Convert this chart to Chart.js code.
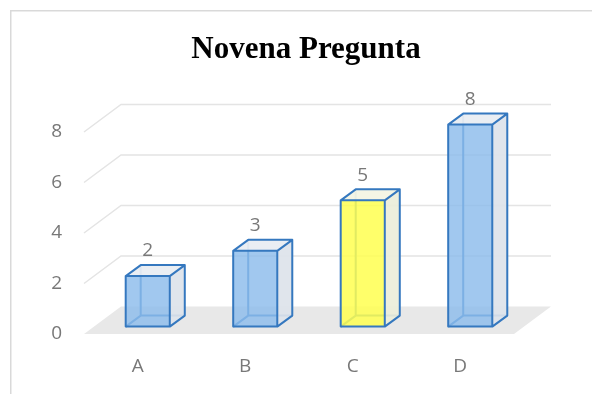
<!DOCTYPE html>
<html>
<head>
<meta charset="utf-8">
<script src="https://cdn.jsdelivr.net/npm/chart.js@4/dist/chart.umd.min.js"></script>
<style>
  html, body { margin: 0; padding: 0; background: #ffffff; }
  #wrap { width: 592px; height: 394px; }
</style>
</head>
<body>
<div id="wrap"><canvas id="chart" width="592" height="394"></canvas></div>
<script>
// Answers per option
const categories = ['A', 'B', 'C', 'D'];
const answers = [2, 3, 5, 8];
const axisTicks = [0, 2, 4, 6, 8];
const chartTitle = 'Novena Pregunta';

// Styling
const HIGHLIGHT = 'C';
const EDGE = '#3578bf';
const GRID = '#e4e4e4';
const FLOOR = '#e8e8e8';
const TEXT = '#787878';
const LABEL_FONT = '19px "Open Sans", sans-serif';
const FACES = {
  normal: { front: 'rgba(140,188,236,0.82)', side: 'rgba(221,227,234,0.92)', top: 'rgba(233,237,242,0.95)' },
  highlight: { front: 'rgba(255,255,80,0.85)', side: 'rgba(236,238,218,0.92)', top: 'rgba(243,244,228,0.95)' }
};
// Depth of the 3D box (vector from front plane to back wall)
const DEPTH = { dx: 37, dy: -27.5 };
const BAR_FRONT = 0.27;   // bar front face position along the depth
const BAR_DEPTH = { dx: 15, dy: -11 };

const threeD = {
  id: 'threeD',
  beforeDraw(chart) {
    const ctx = chart.ctx;
    ctx.save();
    ctx.strokeStyle = '#d9d9d9';
    ctx.lineWidth = 1.5;
    ctx.beginPath();
    ctx.moveTo(10.75, 394);
    ctx.lineTo(10.75, 10.75);
    ctx.lineTo(592, 10.75);
    ctx.stroke();
    ctx.restore();
  },
  beforeDatasetsDraw(chart) {
    const ctx = chart.ctx;
    const a = chart.chartArea;
    const y = chart.scales.y;
    const y0 = y.getPixelForValue(0);
    ctx.save();
    // floor
    ctx.fillStyle = FLOOR;
    ctx.beginPath();
    ctx.moveTo(a.left, y0);
    ctx.lineTo(a.right, y0);
    ctx.lineTo(a.right + DEPTH.dx, y0 + DEPTH.dy);
    ctx.lineTo(a.left + DEPTH.dx, y0 + DEPTH.dy);
    ctx.closePath();
    ctx.fill();
    // side and back wall gridlines
    ctx.strokeStyle = GRID;
    ctx.lineWidth = 1.5;
    y.ticks.forEach(t => {
      if (t.value === 0) return;
      const py = y.getPixelForValue(t.value);
      ctx.beginPath();
      ctx.moveTo(a.left, py);
      ctx.lineTo(a.left + DEPTH.dx, py + DEPTH.dy);
      ctx.lineTo(a.right + DEPTH.dx, py + DEPTH.dy);
      ctx.stroke();
    });
    ctx.restore();
  },
  afterDatasetsDraw(chart) {
    const ctx = chart.ctx;
    const meta = chart.getDatasetMeta(0);
    const ox = DEPTH.dx * BAR_FRONT, oy = DEPTH.dy * BAR_FRONT;
    ctx.save();
    ctx.lineJoin = 'round';
    meta.data.forEach((bar, i) => {
      const faces = categories[i] === HIGHLIGHT ? FACES.highlight : FACES.normal;
      const x0 = bar.x - bar.width / 2 + ox, x1 = bar.x + bar.width / 2 + ox;
      const yt = bar.y + oy, yb = bar.base + oy;
      const bx = BAR_DEPTH.dx, by = BAR_DEPTH.dy;
      ctx.lineWidth = 2;
      ctx.strokeStyle = EDGE;
      // hidden edges, seen through the faces
      ctx.beginPath();
      ctx.moveTo(x0 + bx, yt + by);
      ctx.lineTo(x0 + bx, yb + by);
      ctx.lineTo(x1 + bx, yb + by);
      ctx.moveTo(x0, yb);
      ctx.lineTo(x0 + bx, yb + by);
      ctx.stroke();
      // side face
      ctx.fillStyle = faces.side;
      ctx.beginPath();
      ctx.moveTo(x1, yt); ctx.lineTo(x1 + bx, yt + by);
      ctx.lineTo(x1 + bx, yb + by); ctx.lineTo(x1, yb);
      ctx.closePath(); ctx.fill();
      // top face
      ctx.fillStyle = faces.top;
      ctx.beginPath();
      ctx.moveTo(x0, yt); ctx.lineTo(x0 + bx, yt + by);
      ctx.lineTo(x1 + bx, yt + by); ctx.lineTo(x1, yt);
      ctx.closePath(); ctx.fill();
      // front face
      ctx.fillStyle = faces.front;
      ctx.fillRect(x0, yt, x1 - x0, yb - yt);
      // visible edges
      ctx.beginPath();
      ctx.rect(x0, yt, x1 - x0, yb - yt);
      ctx.moveTo(x0, yt); ctx.lineTo(x0 + bx, yt + by);
      ctx.lineTo(x1 + bx, yt + by); ctx.lineTo(x1, yt);
      ctx.moveTo(x1 + bx, yt + by); ctx.lineTo(x1 + bx, yb + by);
      ctx.lineTo(x1, yb);
      ctx.stroke();
      // value label
      ctx.fillStyle = TEXT;
      ctx.font = LABEL_FONT;
      ctx.textAlign = 'center';
      ctx.textBaseline = 'middle';
      ctx.fillText(String(answers[i]), (x0 + x1) / 2, yt - 25);
    });
    ctx.restore();
  },
  afterDraw(chart) {
    const ctx = chart.ctx;
    ctx.save();
    ctx.fillStyle = '#000000';
    ctx.font = 'bold 31px "Liberation Serif", "Times New Roman", serif';
    ctx.textAlign = 'center';
    ctx.textBaseline = 'alphabetic';
    ctx.fillText(chartTitle, 306, 58);
    ctx.restore();
  }
};

new Chart(document.getElementById('chart'), {
  type: 'bar',
  data: {
    labels: categories,
    datasets: [{
      data: answers,
      backgroundColor: 'rgba(0,0,0,0)',
      borderWidth: 0,
      categoryPercentage: 1,
      barPercentage: 0.41
    }]
  },
  options: {
    responsive: false,
    animation: false,
    devicePixelRatio: 1,
    layout: { padding: { left: 10, right: 78, top: 132, bottom: 0 } },
    plugins: { legend: { display: false }, tooltip: { enabled: false }, title: { display: false } },
    scales: {
      x: {
        grid: { display: false, drawTicks: false },
        border: { display: false },
        ticks: { color: TEXT, font: { family: 'Open Sans', size: 19 }, padding: 21 },
        afterFit(s) { s.height = 60; }
      },
      y: {
        min: axisTicks[0],
        max: axisTicks[axisTicks.length - 1],
        afterBuildTicks(s) { s.ticks = axisTicks.map(v => ({ value: v })); },
        grid: { display: false, drawTicks: false },
        border: { display: false },
        ticks: { color: TEXT, font: { family: 'Open Sans', size: 19 }, padding: 22 },
        afterFit(s) { s.width = 74; }
      }
    }
  },
  plugins: [threeD]
});
</script>
</body>
</html>
